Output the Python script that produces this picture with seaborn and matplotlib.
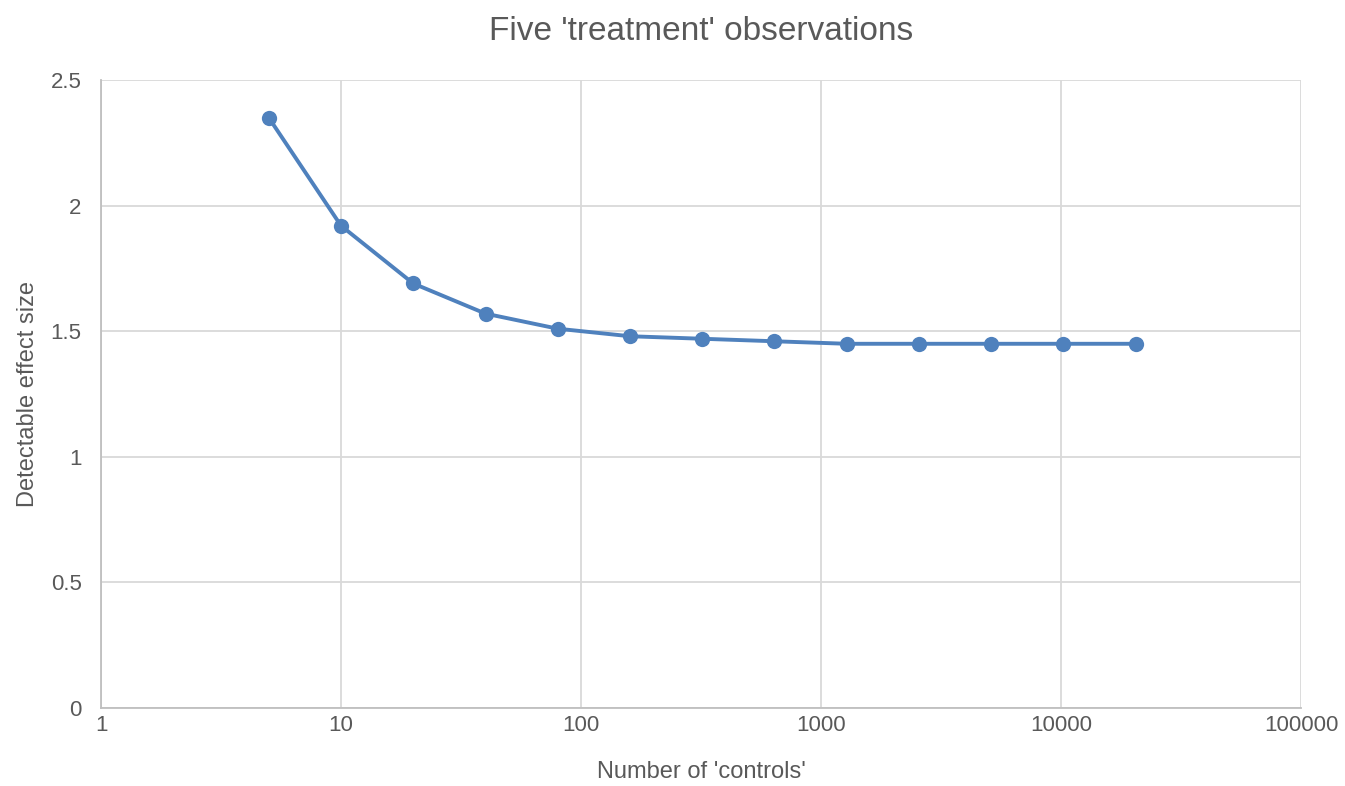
import matplotlib
matplotlib.use("Agg")
import matplotlib.pyplot as plt
import matplotlib.ticker as mticker
import seaborn as sns
import pandas as pd

# number of controls vs detectable effect size
n_controls = [5, 10, 20, 40, 80, 160, 320, 640, 1280, 2560, 5120, 10240, 20480]
effect_size = [2.35, 1.92, 1.69, 1.57, 1.51, 1.48, 1.47, 1.46, 1.45, 1.45, 1.45, 1.45, 1.45]

x_ticks = [1, 10, 100, 1000, 10000, 100000]
y_ticks = [0, 0.5, 1, 1.5, 2, 2.5]

df = pd.DataFrame({'controls': n_controls, 'effect': effect_size})

sns.set_style('white')
plt.rcParams['font.family'] = ['Liberation Sans', 'DejaVu Sans']

line_color = '#4f81bd'
grid_color = '#d9d9d9'
text_color = '#595959'

fig = plt.figure(figsize=(13.45, 7.86), dpi=100)
ax = fig.add_axes([0.0751, 0.0992, 0.8922, 0.799])

sns.lineplot(data=df, x='controls', y='effect', ax=ax, color=line_color,
             linewidth=2.8, marker='o', markersize=11, markeredgewidth=0)

ax.set_xscale('log')
ax.set_xlim(1, 100000)
ax.set_ylim(0, 2.5)
ax.set_xticks(x_ticks)
ax.xaxis.set_major_formatter(mticker.FuncFormatter(lambda v, p: f'{int(v)}'))
ax.xaxis.set_minor_locator(mticker.NullLocator())
ax.set_yticks(y_ticks)
ax.set_yticklabels(['0', '0.5', '1', '1.5', '2', '2.5'])

ax.grid(True, color=grid_color, linewidth=1.3)
ax.set_axisbelow(True)
for side in ['top', 'right']:
    ax.spines[side].set_visible(False)
for side in ['left', 'bottom']:
    ax.spines[side].set_color('#bfbfbf')
    ax.spines[side].set_linewidth(1.3)

ax.tick_params(axis='both', length=0, labelsize=16, colors=text_color)
ax.tick_params(axis='x', pad=5)
ax.tick_params(axis='y', pad=14)
ax.set_xlabel("Number of 'controls'", fontsize=17, color=text_color, labelpad=18)
ax.set_ylabel('Detectable effect size', fontsize=17, color=text_color, labelpad=8)
ax.set_title("Five 'treatment' observations", fontsize=24, color=text_color, pad=29)

fig.savefig('out.png', dpi=100)
plt.close(fig)
